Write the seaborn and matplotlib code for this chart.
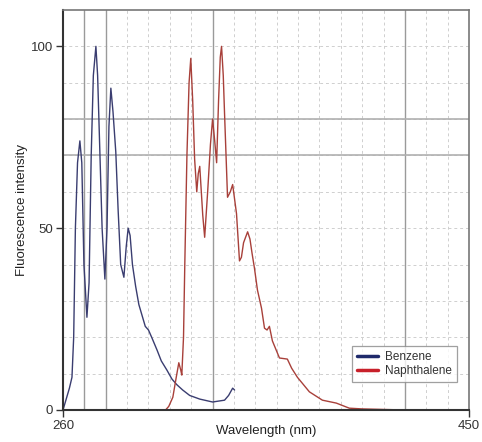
import numpy as np
import pandas as pd
import matplotlib
matplotlib.use("Agg")
import matplotlib.pyplot as plt
import seaborn as sns

# Benzene emission spectrum (wavelength nm, intensity)
benzene_wl = [260, 261.5, 263, 264.2, 265, 265.8, 266.8, 267.9, 268.8, 269.8, 271.2,
              272.2, 273.2, 274.2, 275.4, 276.2, 277.3, 278.3, 279.6, 280.6, 281.5,
              282.4, 283.4, 284.7, 285.8, 287, 288.5, 289.6, 290.5, 291.4, 292.5,
              294, 295.5, 297, 298.5, 300, 301.5, 304, 306, 308.6, 311, 313.2, 316,
              319.3, 324, 330, 335.6, 337.5, 339.4, 340.3]
benzene_int = [0, 3, 6, 9, 20, 50, 68, 74, 68, 40, 25.5,
               35, 70, 92, 100, 92, 70, 50, 36, 50, 78,
               88.5, 82, 71, 55, 40, 36.5, 45, 50, 48, 40,
               34, 29, 26, 23, 22, 20, 16.5, 13.5, 11, 8.5, 7, 5.5,
               4, 3, 2.2, 2.7, 4, 6, 5.5]

# Naphthalene emission spectrum
naph_wl = [300, 308, 309.5, 311.4, 313, 314.2, 315.1, 315.6, 316.4, 317, 318, 319,
           319.8, 320.7, 321.6, 322.6, 323.3, 324, 325.4, 326.3, 327.7, 329, 330,
           331, 331.9, 332.8, 333.6, 334.2, 335, 335.6, 337, 338.3, 339.4, 340.3,
           341.2, 342.6, 343.5, 344.5, 346.4, 347.5, 348.5, 349.6, 351, 352.9,
           354.3, 355.5, 356.6, 358, 361.3, 365, 367, 369.7, 375.3, 381.4, 387.9,
           394, 400, 420, 450]
naph_int = [0, 0, 1, 3.5, 9, 13, 11, 9.6, 20, 40, 70, 90,
            96.7, 85, 69, 60, 65, 67, 53.6, 47.5, 60, 73, 80,
            74, 68, 85, 97, 100, 92, 81.6, 58.5, 60, 62, 58,
            54, 41, 42, 46, 49, 47, 43, 39, 33, 28,
            22.5, 22, 23, 19, 14.3, 14, 11.5, 9, 5, 2.7, 1.9,
            0.5, 0.3, 0, 0]

series_names = ["Benzene", "Naphthalene"]
x_ticks = [260, 450]
y_ticks = [0, 50, 100]

df = pd.concat([
    pd.DataFrame({"Wavelength": benzene_wl, "Intensity": benzene_int, "Compound": series_names[0]}),
    pd.DataFrame({"Wavelength": naph_wl, "Intensity": naph_int, "Compound": series_names[1]}),
], ignore_index=True)

sns.set_style("white")
plt.rcParams["font.family"] = ["Liberation Sans", "DejaVu Sans"]

fig = plt.figure(figsize=(4.82, 4.42), dpi=100)
ax = fig.add_axes([0.1307, 0.0724, 0.8423, 0.9050])

# grid: dashed light every 10 units, a few darker solid lines
for xv in range(270, 450, 10):
    ax.axvline(xv, color="#cfcfcf", lw=0.7, ls=(0, (3, 3)), zorder=0)
for yv in range(10, 110, 10):
    ax.axhline(yv, color="#cfcfcf", lw=0.7, ls=(0, (3, 3)), zorder=0)
for xv in [270, 280, 330, 420]:
    ax.axvline(xv, color="#9a9a9a", lw=1.0, zorder=0.5)
for yv in [70, 80]:
    ax.axhline(yv, color="#b0b0b0", lw=1.2, zorder=0.5)

palette = {"Benzene": "#3a3d70", "Naphthalene": "#a8403a"}
sns.lineplot(data=df, x="Wavelength", y="Intensity", hue="Compound",
             palette=palette, lw=1.0, ax=ax, sort=False, estimator=None)

ax.set_xlim(260, 450)
ax.set_ylim(0, 110)
ax.set_xticks(x_ticks)
ax.set_yticks(y_ticks)
ax.tick_params(axis="both", labelsize=9.5, colors="#333333", length=5, width=1, direction="out",
               left=True, bottom=True, pad=2)
ax.set_xlabel("Wavelength (nm)", fontsize=9.5, color="#222222", labelpad=-5)
ax.set_ylabel("Fluorescence intensity", fontsize=9.5, color="#222222", labelpad=2)

for side in ["left", "bottom"]:
    ax.spines[side].set_color("#333333")
    ax.spines[side].set_linewidth(1.5)
for side in ["top", "right"]:
    ax.spines[side].set_color("#777777")
    ax.spines[side].set_linewidth(1.2)

leg = ax.legend(loc="lower right", bbox_to_anchor=(0.985, 0.055), fontsize=8.5,
                frameon=True, fancybox=False, handlelength=1.8, borderpad=0.4,
                labelspacing=0.2, handletextpad=0.6)
leg.get_frame().set_edgecolor("#888888")
leg.get_frame().set_linewidth(0.9)
leg_colors = ["#1f2a6b", "#c8202a"]
for line, c in zip(leg.get_lines(), leg_colors):
    line.set_color(c)
    line.set_linewidth(2.5)
for t in leg.get_texts():
    t.set_color("#333333")

fig.savefig("out.png", dpi=100)
